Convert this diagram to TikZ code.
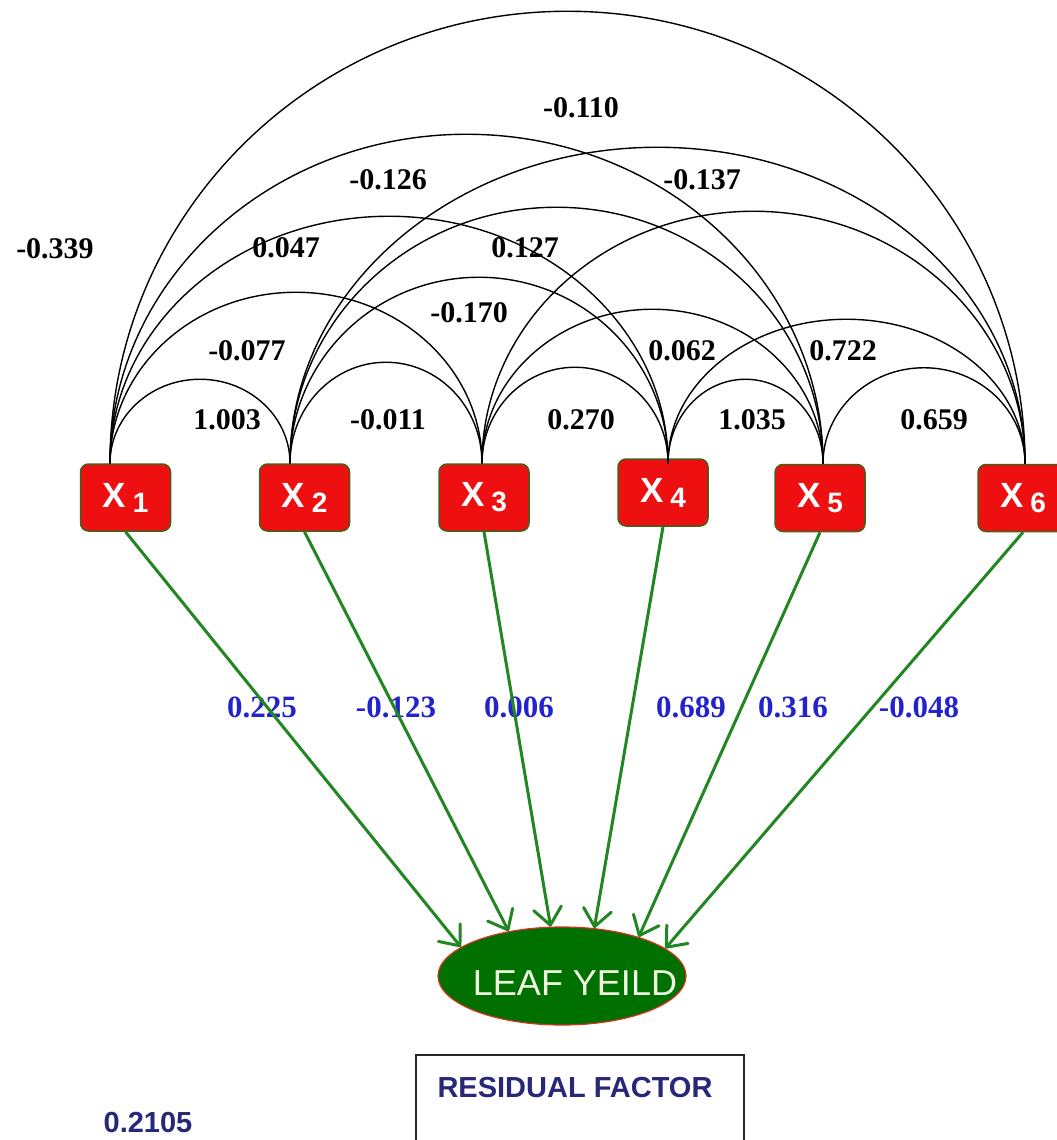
\documentclass[tikz,border=0pt]{standalone}
\usepackage{fontspec}
\setmainfont{Liberation Serif}
\newfontfamily\arialfont{Liberation Sans}
\usetikzlibrary{arrows.meta,shapes.geometric,calc}

\definecolor{boxred}{RGB}{238,16,16}
\definecolor{boxedge}{RGB}{70,95,25}
\definecolor{pathgreen}{RGB}{34,135,34}
\definecolor{leafgreen}{RGB}{0,112,0}
\definecolor{leafedge}{RGB}{215,50,30}
\definecolor{coefblue}{RGB}{35,35,205}
\definecolor{resnavy}{RGB}{40,40,120}
\definecolor{leaftext}{RGB}{240,250,225}

% variable name with lowered index
\newcommand\xvar[1]{\fontsize{35}{35}\selectfont X\hspace{7pt}\raisebox{-5pt}{\fontsize{28}{28}\selectfont #1}}

% half-elliptic correlation arc between two top points, #3 = height
\newcommand\corrarc[3]{%
  \draw[corr] let \p1=(t#1), \p2=(t#2), \n1={(\x2-\x1)/2} in
    (t#1) .. controls (\x1,\y1+0.5523*#3pt) and (\x1+0.4477*\n1,\y1+#3pt) .. (\x1+\n1,\y1+#3pt)
          .. controls (\x2-0.4477*\n1,\y1+#3pt) and (\x2,\y2+0.5523*#3pt) .. (t#2);}

\begin{document}
\begin{tikzpicture}[x=1pt,y=-1pt,
  var/.style={draw=boxedge, line width=1.5pt, fill=boxred, rounded corners=8pt,
    minimum width=90pt, minimum height=67pt, inner sep=0pt, text=white, font=\arialfont\bfseries},
  corrlbl/.style={font=\fontsize{30}{30}\selectfont\bfseries, inner sep=0pt},
  pathlbl/.style={font=\fontsize{31}{31}\selectfont\bfseries, text=coefblue, inner sep=0pt},
  corr/.style={line width=1.4pt, black},
  effect/.style={draw=pathgreen, line width=3pt,
    -{Straight Barb[length=17pt,width=28pt,line join=round,line cap=round]}},
]
\useasboundingbox (0,0) rectangle (1057,1140);

% predictor boxes
\node[var] (x1) at (125.5,497.5) {\xvar{1}};
\node[var] (x2) at (304.5,497.5) {\xvar{2}};
\node[var] (x3) at (484,497.5) {\xvar{3}};
\node[var] (x4) at (663,492.5) {\xvar{4}};
\node[var] (x5) at (820,498) {\xvar{5}};
\node[var] (x6) at (1023,498) {\xvar{6}};

% arc end points on the box tops
\coordinate (t1) at ($(x1.north)+(-15.5,0)$);
\coordinate (t2) at ($(x2.north)+(-14.5,0)$);
\coordinate (t3) at ($(x3.north)+(-2,0)$);
\coordinate (t4) at ($(x4.north)+(5,5)$);
\coordinate (t5) at ($(x5.north)+(3,0)$);
\coordinate (t6) at ($(x6.north)+(2,0)$);

% dependent variable
\node[ellipse, draw=leafedge, line width=1.2pt, fill=leafgreen, minimum width=248pt,
  minimum height=98pt, inner sep=0pt] (leaf) at (562,976) {};
\node[font=\arialfont\fontsize{36}{36}\selectfont, text=leaftext, inner sep=0pt] (leaflbl) at (575,983.5) {LEAF YEILD};

% residual
\node[draw=black!85, line width=2pt, minimum width=328pt, minimum height=120pt,
  anchor=north west, inner sep=0pt] (resbox) at (415,1054) {};
\node[font=\arialfont\bfseries\fontsize{29}{29}\selectfont, text=resnavy, inner sep=0pt] (reslbl) at (575,1088) {RESIDUAL FACTOR};
\node[font=\arialfont\bfseries\fontsize{29}{29}\selectfont, text=resnavy, inner sep=0pt] (resval) at (148,1122.5) {0.2105};

% correlation coefficients
\node[corrlbl] (r16) at (581,108) {-0.110};
\node[corrlbl] (r15) at (388,180) {-0.126};
\node[corrlbl] (r26) at (702,180) {-0.137};
\node[corrlbl] (r1x) at (55,249) {-0.339};
\node[corrlbl] (r14) at (286,248) {0.047};
\node[corrlbl] (r25) at (525,248) {0.127};
\node[corrlbl] (r24) at (469,313) {-0.170};
\node[corrlbl] (r13) at (247,351) {-0.077};
\node[corrlbl] (r35) at (682,351) {0.062};
\node[corrlbl] (r46) at (843,351) {0.722};
\node[corrlbl] (r12) at (227,420) {1.003};
\node[corrlbl] (r23) at (388,420) {-0.011};
\node[corrlbl] (r34) at (581,420) {0.270};
\node[corrlbl] (r45) at (752,420) {1.035};
\node[corrlbl] (r56) at (934,420) {0.659};

% direct effects
\node[pathlbl] (p1) at (262,707) {0.225};
\node[pathlbl] (p2) at (396,707) {-0.123};
\node[pathlbl] (p3) at (519,707) {0.006};
\node[pathlbl] (p4) at (691,707) {0.689};
\node[pathlbl] (p5) at (793,707) {0.316};
\node[pathlbl] (p6) at (919,707) {-0.048};

% correlation arcs
\corrarc{1}{2}{84}
\corrarc{2}{3}{101}
\corrarc{3}{4}{96}
\corrarc{4}{5}{84}
\corrarc{5}{6}{96}
\corrarc{1}{3}{171}
\corrarc{2}{4}{186}
\corrarc{3}{5}{154}
\corrarc{4}{6}{144}
\corrarc{1}{4}{247}
\corrarc{2}{5}{256}
\corrarc{3}{6}{252}
\corrarc{1}{5}{329}
\corrarc{2}{6}{316}
\corrarc{1}{6}{452}

% path arrows
\draw[effect] (x1.south) -- (leaf.164);
\draw[effect] (x2.south) -- (leaf.140);
\draw[effect] (x3.south) -- (leaf.103);
\draw[effect] (x4.south) -- (leaf.56);
\draw[effect] (x5.south) -- (leaf.27);
\draw[effect] (x6.south) -- (leaf.15);
\end{tikzpicture}
\end{document}
